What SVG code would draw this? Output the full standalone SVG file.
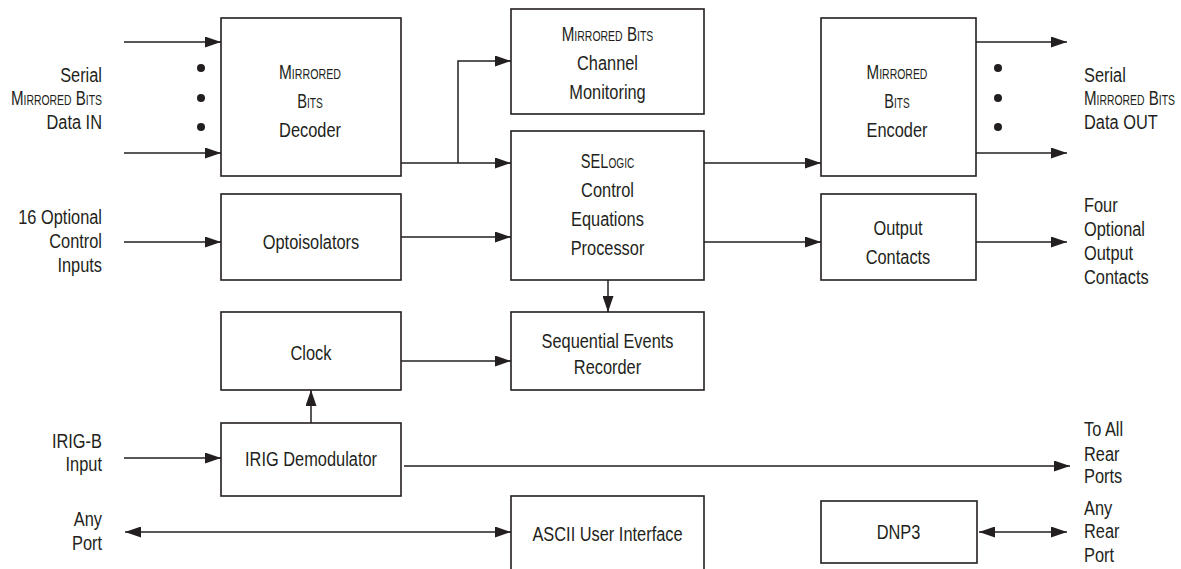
<svg xmlns="http://www.w3.org/2000/svg" width="1181" height="569" viewBox="0 0 1181 569">
<style>
.box{fill:#fff;stroke:#231f20;stroke-width:1.6}
.ln{fill:none;stroke:#231f20;stroke-width:1.5}
.arr{marker-end:url(#ah)}
.dbl{marker-end:url(#ah);marker-start:url(#ah)}
text{font-family:"Liberation Sans",Arial,sans-serif;font-size:21px;fill:#231f20}
.sc{font-variant:small-caps}
.c text{text-anchor:middle}
.r text{text-anchor:end}
.l text{text-anchor:start}
.dot{fill:#231f20}
</style>
<defs>
<marker id="ah" markerUnits="userSpaceOnUse" markerWidth="16" markerHeight="11" refX="16" refY="5.5" orient="auto-start-reverse">
<path d="M0,0 L16,5.5 L0,11 z" fill="#231f20"/>
</marker>
</defs>
<rect width="1181" height="569" fill="#fff"/>

<g id="connectors">
<path class="ln arr" d="M124,42 H221"/>
<path class="ln arr" d="M124,153 H221"/>
<path class="ln arr" d="M401,163 H511"/>
<path class="ln arr" d="M458,163 V61 H511"/>
<path class="ln arr" d="M704,163 H821"/>
<path class="ln arr" d="M976,42 H1067"/>
<path class="ln arr" d="M976,153 H1067"/>
<path class="ln arr" d="M124,242 H221"/>
<path class="ln arr" d="M401,237 H511"/>
<path class="ln arr" d="M704,242 H821"/>
<path class="ln arr" d="M976,242 H1067"/>
<path class="ln arr" d="M608,280 V312"/>
<path class="ln arr" d="M401,361 H511"/>
<path class="ln arr" d="M311,423 V390"/>
<path class="ln arr" d="M124,458 H221"/>
<path class="ln arr" d="M404,466 H1070"/>
<path class="ln dbl" d="M125,532 H511"/>
<path class="ln dbl" d="M979,532 H1067"/>
<circle class="dot" cx="201" cy="68" r="4"/>
<circle class="dot" cx="201" cy="98" r="4"/>
<circle class="dot" cx="201" cy="127" r="4"/>
<circle class="dot" cx="998" cy="68" r="4"/>
<circle class="dot" cx="998" cy="98" r="4"/>
<circle class="dot" cx="998" cy="127" r="4"/>
</g>

<g id="decoder">
<rect class="box" x="221" y="18" width="180" height="158"/>
<g class="c" transform="translate(310 0) scale(0.78 1)">
<text class="sc" x="0" y="79" textLength="79.5" lengthAdjust="spacingAndGlyphs">Mirrored</text>
<text class="sc" x="0" y="108" textLength="32.8" lengthAdjust="spacingAndGlyphs">Bits</text>
<text x="0" y="137">Decoder</text>
</g>
</g>

<g id="channel-monitoring">
<rect class="box" x="511" y="9" width="193" height="105"/>
<g class="c" transform="translate(607.5 0) scale(0.78 1)">
<text class="sc" x="0" y="41" textLength="117.4" lengthAdjust="spacingAndGlyphs">Mirrored Bits</text>
<text x="0" y="70">Channel</text>
<text x="0" y="99">Monitoring</text>
</g>
</g>

<g id="selogic">
<rect class="box" x="511" y="131" width="193" height="149"/>
<g class="c" transform="translate(607.5 0) scale(0.78 1)">
<text class="sc" x="0" y="168" textLength="68.7" lengthAdjust="spacingAndGlyphs">SELogic</text>
<text x="0" y="197">Control</text>
<text x="0" y="226">Equations</text>
<text x="0" y="255">Processor</text>
</g>
</g>

<g id="encoder">
<rect class="box" x="821" y="18" width="155" height="158"/>
<g class="c" transform="translate(897 0) scale(0.78 1)">
<text class="sc" x="0" y="79" textLength="78" lengthAdjust="spacingAndGlyphs">Mirrored</text>
<text class="sc" x="0" y="108" textLength="32.5" lengthAdjust="spacingAndGlyphs">Bits</text>
<text x="0" y="137">Encoder</text>
</g>
</g>

<g id="optoisolators">
<rect class="box" x="221" y="194" width="180" height="86"/>
<g class="c" transform="translate(311 0) scale(0.78 1)">
<text x="0" y="249">Optoisolators</text>
</g>
</g>

<g id="output-contacts">
<rect class="box" x="821" y="194" width="155" height="86"/>
<g class="c" transform="translate(898 0) scale(0.78 1)">
<text x="0" y="235">Output</text>
<text x="0" y="264">Contacts</text>
</g>
</g>

<g id="clock">
<rect class="box" x="221" y="312" width="180" height="78"/>
<g class="c" transform="translate(311 0) scale(0.78 1)">
<text x="0" y="360">Clock</text>
</g>
</g>

<g id="ser">
<rect class="box" x="511" y="312" width="193" height="78"/>
<g class="c" transform="translate(607.5 0) scale(0.78 1)">
<text x="0" y="348">Sequential Events</text>
<text x="0" y="374">Recorder</text>
</g>
</g>

<g id="irig">
<rect class="box" x="221" y="423" width="180" height="73"/>
<g class="c" transform="translate(311 0) scale(0.78 1)">
<text x="0" y="466">IRIG Demodulator</text>
</g>
</g>

<g id="ascii">
<rect class="box" x="511" y="496" width="193" height="90"/>
<g class="c" transform="translate(607.5 0) scale(0.78 1)">
<text x="0" y="541">ASCII User Interface</text>
</g>
</g>

<g id="dnp3">
<rect class="box" x="821" y="501" width="156" height="62"/>
<g class="c" transform="translate(898.5 0) scale(0.78 1)">
<text x="0" y="539">DNP3</text>
</g>
</g>

<g id="labels-left" class="r" transform="translate(102 0) scale(0.78 1)">
<text x="0" y="82">Serial</text>
<text class="sc" x="0" y="105" textLength="116.7" lengthAdjust="spacingAndGlyphs">Mirrored Bits</text>
<text x="0" y="129">Data IN</text>
<text x="0" y="224">16 Optional</text>
<text x="0" y="248">Control</text>
<text x="0" y="272">Inputs</text>
<text x="0" y="448">IRIG-B</text>
<text x="0" y="471">Input</text>
<text x="0" y="526">Any</text>
<text x="0" y="550">Port</text>
</g>

<g id="labels-right" class="l" transform="translate(1084 0) scale(0.78 1)">
<text x="0" y="82">Serial</text>
<text class="sc" x="0" y="105" textLength="116.7" lengthAdjust="spacingAndGlyphs">Mirrored Bits</text>
<text x="0" y="129">Data OUT</text>
<text x="0" y="212">Four</text>
<text x="0" y="236">Optional</text>
<text x="0" y="260">Output</text>
<text x="0" y="284">Contacts</text>
<text x="0" y="436">To All</text>
<text x="0" y="461">Rear</text>
<text x="0" y="483">Ports</text>
<text x="0" y="515">Any</text>
<text x="0" y="538">Rear</text>
<text x="0" y="562">Port</text>
</g>
</svg>
